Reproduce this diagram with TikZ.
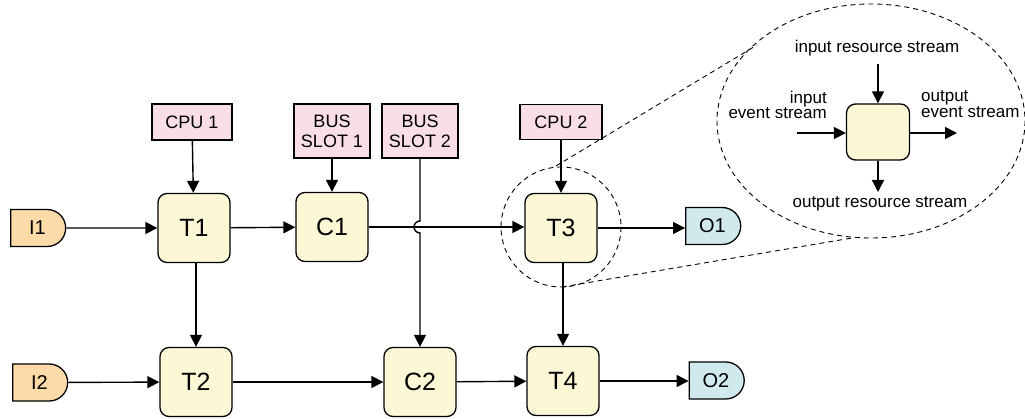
\documentclass[tikz,border=0pt]{standalone}
\usepackage{fontspec}
\setmainfont{Liberation Sans}
\usetikzlibrary{arrows.meta,shapes.misc}
\definecolor{taskfill}{HTML}{FCF8D6}
\definecolor{resfill}{HTML}{F9DDE8}
\definecolor{infill}{HTML}{FDDBA8}
\definecolor{outfill}{HTML}{CFE9ED}
\tikzset{
  x=1pt, y=-1pt,
  task/.style={draw, line width=1.3pt, rounded corners=9pt, fill=taskfill,
    minimum width=72pt, minimum height=69pt, inner sep=0pt,
    font=\fontsize{25}{30}\selectfont},
  res/.style={draw, line width=1.3pt, fill=resfill, inner sep=0pt, align=center,
    font=\fontsize{18}{20}\selectfont},
  src/.style={draw, line width=1.3pt, rounded rectangle, rounded rectangle west arc=none,
    minimum width=55pt, minimum height=37pt, inner sep=0pt, fill=infill,
    font=\fontsize{20}{22}\selectfont},
  snk/.style={src, fill=outfill},
  arr/.style={line width=1.4pt, -{Triangle[length=12pt,width=12pt]}},
  zoomline/.style={line width=0.9pt, dash pattern=on 5pt off 4pt},
  lbl/.style={font=\fontsize{17}{15.5}\selectfont, inner sep=0pt},
}
\begin{document}
\begin{tikzpicture}
\useasboundingbox (0,0) rectangle (1025,419);

% zoom decorations
\draw[zoomline] (561,227) circle[radius=60];
\draw[zoomline] (871,121) ellipse[x radius=154, y radius=117];
\coordinate (zc1) at (556,166);
\coordinate (ze1) at (757,45);
\coordinate (zc2) at (562,287);
\coordinate (ze2) at (852,238);
\draw[zoomline] (zc1) -- (ze1);
\draw[zoomline] (zc2) -- (ze2);

% nodes
\node[task] (T1) at (194,228) {T1};
\node[task] (C1) at (332,227) {C1};
\node[task] (T3) at (561,228) {T3};
\node[task] (T2) at (196,382) {T2};
\node[task] (C2) at (420,382) {C2};
\node[task] (T4) at (563,381) {T4};

\node[res, minimum width=80pt, minimum height=36pt] (CPU1) at (192,122) {CPU 1};
\node[res, minimum width=76pt, minimum height=54pt] (BS1) at (332,131) {BUS\\SLOT 1};
\node[res, minimum width=76pt, minimum height=54pt] (BS2) at (420,131) {BUS\\SLOT 2};
\node[res, minimum width=82pt, minimum height=35pt] (CPU2) at (561,122) {CPU 2};

\node[src] (I1) at (37.5,228) {I1};
\node[src] (I2) at (39.5,382.5) {I2};
\node[snk] (O1) at (712.5,226) {O1};
\node[snk] (O2) at (716,380.5) {O2};

% connectors
\draw[arr] (I1) -- (T1);
\draw[arr] (T1) -- (C1);
\draw[arr] (C1.east) -- (T3.west |- C1.east);
\draw[arr] (T3) -- (O1.west |- T3.east);
\draw[arr] (CPU1) -- (T1);
\draw[arr] (BS1) -- (C1);
\draw[arr] (CPU2) -- (T3);
\draw[arr] (BS2.south) -- (420,221) arc[start angle=270, end angle=90, radius=6] -- (C2.north);
\draw[arr] (T1.south -| T2.north) -- (T2.north);
\draw[arr] (T3.south -| T4.north) -- (T4.north);
\draw[arr] (I2) -- (T2);
\draw[arr] (T2) -- (C2);
\draw[arr] (C2) -- (T4);
\draw[arr] (T4) -- (O2.west |- T4.east);

% inset
\node[task, minimum width=63pt, minimum height=56pt] (B) at (878,132) {};
\coordinate (bt) at (878,64);
\coordinate (bl) at (797,133);
\coordinate (br) at (957,133);
\coordinate (bb) at (878,192);
\draw[arr] (bt) -- (B.north);
\draw[arr] (bl) -- (B.west |- bl);
\draw[arr] (B.east |- br) -- (br);
\draw[arr] (B.south) -- (bb);
\node[lbl] (l1) at (877,48) {input resource stream};
\node[lbl, align=right, anchor=east] (l2) at (827,105) {input\\event stream};
\node[lbl, align=left, anchor=west] (l3) at (921,104) {output\\event stream};
\node[lbl] (l4) at (880,204) {output resource stream};
\end{tikzpicture}
\end{document}
